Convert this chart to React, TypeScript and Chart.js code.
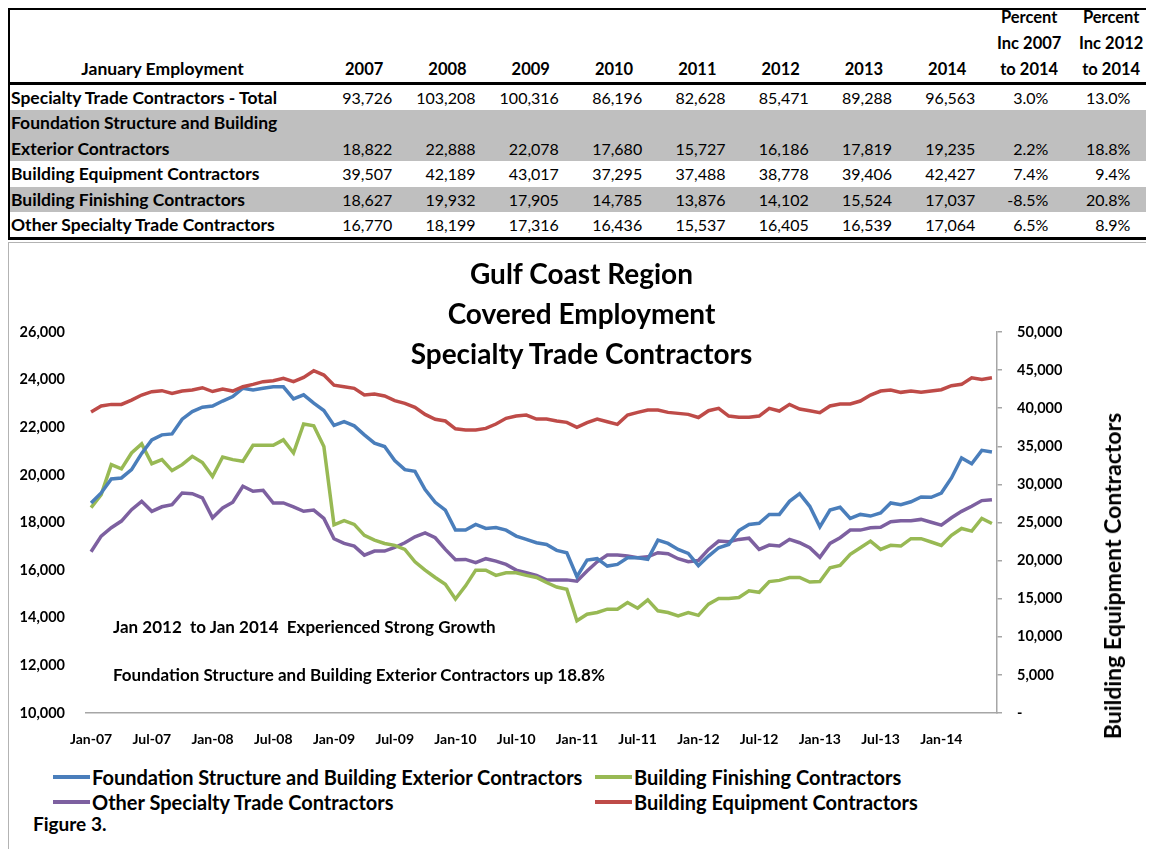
import React, { useEffect, useRef } from 'react';
import { Chart, registerables } from 'chart.js';

Chart.register(...registerables);

// ---------------- Table data ----------------
const TABLE_HEADER_LABEL = 'January Employment';
const TABLE_YEARS = ['2007', '2008', '2009', '2010', '2011', '2012', '2013', '2014'];
const PCT_HEADERS = [
  ['Percent', 'Inc 2007', 'to 2014'],
  ['Percent', 'Inc 2012', 'to 2014'],
];
const ROW_LABELS = [
  ['Specialty Trade Contractors - Total'],
  ['Foundation Structure and Building', 'Exterior Contractors'],
  ['Building Equipment Contractors'],
  ['Building Finishing Contractors'],
  ['Other Specialty Trade Contractors'],
];
const ROW_TOTAL = [93726, 103208, 100316, 86196, 82628, 85471, 89288, 96563];
const ROW_FOUNDATION = [18822, 22888, 22078, 17680, 15727, 16186, 17819, 19235];
const ROW_EQUIPMENT = [39507, 42189, 43017, 37295, 37488, 38778, 39406, 42427];
const ROW_FINISHING = [18627, 19932, 17905, 14785, 13876, 14102, 15524, 17037];
const ROW_OTHER = [16770, 18199, 17316, 16436, 15537, 16405, 16539, 17064];
const PCT_2007_2014 = ['3.0%', '2.2%', '7.4%', '-8.5%', '6.5%'];
const PCT_2012_2014 = ['13.0%', '18.8%', '9.4%', '20.8%', '8.9%'];
const TABLE_VALUES = [ROW_TOTAL, ROW_FOUNDATION, ROW_EQUIPMENT, ROW_FINISHING, ROW_OTHER];
const SHADED_ROWS = [1, 3];

// ---------------- Chart data ----------------
const TITLE_LINES = ['Gulf Coast Region', 'Covered Employment', 'Specialty Trade Contractors'];
const NOTE_LINES = [
  'Jan 2012  to Jan 2014  Experienced Strong Growth',
  'Foundation Structure and Building Exterior Contractors up 18.8%',
];
const RIGHT_AXIS_TITLE = 'Building Equipment Contractors';
const FIGURE_LABEL = 'Figure 3.';

const MONTH_ABBR = ['Jan', 'Feb', 'Mar', 'Apr', 'May', 'Jun', 'Jul', 'Aug', 'Sep', 'Oct', 'Nov', 'Dec'];
const START_YEAR = 2007;
const MONTH_COUNT = 90;
const MONTH_LABELS: string[] = [];
for (let i = 0; i < MONTH_COUNT; i++) {
  const y = START_YEAR + Math.floor(i / 12);
  MONTH_LABELS.push(`${MONTH_ABBR[i % 12]}-${String(y).slice(2)}`);
}

const FOUNDATION = [
  18822, 19240, 19830, 19870, 20220, 20900, 21470, 21680, 21720, 22340, 22660, 22840,
  22888, 23100, 23290, 23640, 23570, 23640, 23700, 23700, 23190, 23360, 23010, 22700,
  22078, 22240, 22060, 21680, 21330, 21190, 20600, 20220, 20150, 19380, 18850, 18520,
  17680, 17680, 17920, 17750, 17790, 17680, 17430, 17290, 17150, 17080, 16830, 16730,
  15727, 16420, 16480, 16170, 16240, 16520, 16520, 16450, 17260, 17120, 16870, 16700,
  16186, 16590, 16940, 17080, 17660, 17920, 17970, 18340, 18340, 18890, 19210, 18680,
  17819, 18520, 18640, 18170, 18340, 18270, 18400, 18820, 18750, 18870, 19070, 19060,
  19235, 19870, 20710, 20470, 21030, 20960,
];
const FINISHING = [
  18627, 19170, 20430, 20250, 20920, 21300, 20470, 20640, 20180, 20430, 20780, 20520,
  19932, 20750, 20640, 20570, 21240, 21240, 21240, 21470, 20920, 22140, 22060, 21190,
  17905, 18080, 17920, 17460, 17260, 17120, 17040, 16870, 16350, 16000, 15690, 15410,
  14785, 15340, 16000, 16000, 15780, 15890, 15890, 15780, 15690, 15480, 15290, 15200,
  13876, 14150, 14220, 14360, 14360, 14640, 14400, 14750, 14290, 14220, 14080, 14220,
  14102, 14570, 14810, 14810, 14850, 15130, 15070, 15520, 15570, 15690, 15690, 15500,
  15524, 16100, 16200, 16660, 16940, 17220, 16870, 17040, 17010, 17320, 17320, 17180,
  17037, 17460, 17750, 17640, 18170, 17960,
];
const OTHER = [
  16770, 17430, 17780, 18060, 18540, 18890, 18470, 18660, 18750, 19240, 19210, 19030,
  18199, 18610, 18850, 19520, 19310, 19350, 18820, 18820, 18660, 18470, 18520, 18170,
  17316, 17120, 17010, 16630, 16800, 16800, 16950, 17150, 17400, 17560, 17360, 16870,
  16436, 16450, 16310, 16480, 16380, 16240, 16000, 15890, 15780, 15590, 15590, 15590,
  15537, 15960, 16350, 16630, 16630, 16590, 16520, 16560, 16730, 16690, 16480, 16350,
  16405, 16870, 17220, 17190, 17290, 17340, 16870, 17050, 17010, 17290, 17150, 16940,
  16539, 17120, 17360, 17680, 17680, 17780, 17800, 18030, 18070, 18070, 18130, 18010,
  17890, 18200, 18470, 18680, 18920, 18960,
];
const EQUIPMENT = [
  39507, 40290, 40500, 40500, 41070, 41730, 42170, 42300, 41950, 42250, 42380, 42690,
  42189, 42520, 42250, 42820, 43130, 43480, 43610, 43920, 43480, 44050, 44920, 44350,
  43017, 42820, 42600, 41730, 41860, 41600, 41000, 40640, 40110, 39190, 38540, 38320,
  37295, 37140, 37140, 37350, 37920, 38670, 38970, 39100, 38580, 38580, 38320, 38140,
  37488, 38100, 38580, 38230, 37880, 39100, 39450, 39760, 39760, 39450, 39320, 39190,
  38778, 39670, 39980, 38970, 38800, 38800, 38970, 39980, 39630, 40500, 39890, 39670,
  39406, 40290, 40550, 40550, 40940, 41730, 42250, 42380, 42080, 42250, 42080, 42250,
  42427, 42950, 43130, 44000, 43780, 44000,
];

const SERIES_LABELS = [
  'Foundation Structure and Building Exterior Contractors',
  'Building Finishing Contractors',
  'Other Specialty Trade Contractors',
  'Building Equipment Contractors',
];
const SERIES_DATA = [FOUNDATION, FINISHING, OTHER, EQUIPMENT];
const SERIES_AXIS = ['y', 'y', 'y', 'y2'];
const SERIES_COLORS = ['#4A7EBB', '#98B954', '#7D60A0', '#BE4B48'];

const LEFT_MIN = 10000;
const LEFT_MAX = 26000;
const LEFT_STEP = 2000;
const RIGHT_MIN = 0;
const RIGHT_MAX = 50000;
const RIGHT_STEP = 5000;

const FONT = 'Lato, "Open Sans", sans-serif';

// ---------------- Table component ----------------
const YEAR_W = 83.3;
const LABEL_W = 305;
const PCT1_W = 87;
const PCT2_W = 82;

function DataTable() {
  const cellBase: React.CSSProperties = { boxSizing: 'border-box', flex: 'none' };
  return (
    <div
      style={{
        position: 'absolute',
        left: 0,
        top: 0,
        width: 1142,
        borderLeft: '2px solid #000',
        borderTop: '2px solid #000',
        borderBottom: '3px solid #000',
        boxSizing: 'border-box',
        fontFamily: FONT,
        color: '#000',
      }}
    >
      <div
        style={{
          display: 'flex',
          alignItems: 'flex-end',
          height: 72,
          borderBottom: '3px solid #000',
          fontWeight: 700,
          fontSize: 16.5,
          lineHeight: '26px',
        }}
      >
        <div style={{ ...cellBase, width: LABEL_W, textAlign: 'center', fontSize: 17.5 }}>{TABLE_HEADER_LABEL}</div>
        {TABLE_YEARS.map((y) => (
          <div key={y} style={{ ...cellBase, width: YEAR_W, textAlign: 'right', paddingRight: 15 }}>
            {y}
          </div>
        ))}
        {PCT_HEADERS.map((lines, i) => (
          <div
            key={i}
            style={{ ...cellBase, width: i === 0 ? PCT1_W : PCT2_W, textAlign: 'right', paddingRight: 7 }}
          >
            <div style={{ display: 'inline-block', textAlign: 'center' }}>
              {lines.map((l) => (
                <div key={l}>{l}</div>
              ))}
            </div>
          </div>
        ))}
      </div>
      {ROW_LABELS.map((labelLines, r) => (
        <div
          key={r}
          style={{
            display: 'flex',
            alignItems: 'flex-end',
            height: labelLines.length * 25.4,
            background: SHADED_ROWS.includes(r) ? '#bfbfbf' : '#fff',
            lineHeight: '25.4px',
          }}
        >
          <div style={{ ...cellBase, width: LABEL_W, paddingLeft: 1, fontWeight: 700, fontSize: 17.5, whiteSpace: 'nowrap' }}>
            {labelLines.map((l) => (
              <div key={l}>{l}</div>
            ))}
          </div>
          {TABLE_VALUES[r].map((v, c) => (
            <div key={c} style={{ ...cellBase, width: YEAR_W, textAlign: 'right', paddingRight: 6, fontSize: 16 }}>
              {v.toLocaleString('en-US')}
            </div>
          ))}
          <div style={{ ...cellBase, width: PCT1_W, textAlign: 'right', paddingRight: 20, fontSize: 16 }}>
            {PCT_2007_2014[r]}
          </div>
          <div style={{ ...cellBase, width: PCT2_W, textAlign: 'right', paddingRight: 20, fontSize: 16 }}>
            {PCT_2012_2014[r]}
          </div>
        </div>
      ))}
    </div>
  );
}

// ---------------- App ----------------
const CANVAS_W = 1145;
const CANVAS_H = 520;

export default function App() {
  const canvasRef = useRef<HTMLCanvasElement>(null);

  useEffect(() => {
    if (!canvasRef.current) return;
    const tickFont = { family: FONT, size: 14.5, weight: 'bold' as const };
    const chart = new Chart(canvasRef.current, {
      type: 'line',
      data: {
        labels: MONTH_LABELS,
        datasets: SERIES_LABELS.map((label, i) => ({
          label,
          data: SERIES_DATA[i],
          yAxisID: SERIES_AXIS[i],
          borderColor: SERIES_COLORS[i],
          backgroundColor: SERIES_COLORS[i],
          borderWidth: 3.5,
          pointRadius: 0,
          tension: 0,
          fill: false,
          order: i === 3 ? 0 : 1,
        })),
      },
      options: {
        animation: false,
        responsive: false,
        maintainAspectRatio: false,
        layout: { padding: { top: 89, left: 0, right: 0, bottom: 0 } },
        plugins: {
          legend: { display: false },
          title: { display: false },
          tooltip: { enabled: false },
        },
        scales: {
          x: {
            type: 'category',
            offset: true,
            grid: { display: false, drawTicks: false },
            border: { display: true, color: '#a6a6a6', width: 1.5 },
            ticks: {
              autoSkip: false,
              maxRotation: 0,
              minRotation: 0,
              padding: 18,
              color: '#000',
              font: { family: FONT, size: 14, weight: 'bold' },
              callback: function (this: any, value: any, index: number) {
                return index % 6 === 0 ? MONTH_LABELS[index] : '';
              },
            },
            afterFit: (s: any) => {
              s.height = 50;
            },
          },
          y: {
            position: 'left',
            min: LEFT_MIN,
            max: LEFT_MAX,
            grid: { display: false, drawTicks: false },
            border: { display: false },
            ticks: {
              stepSize: LEFT_STEP,
              padding: 21,
              color: '#000',
              font: tickFont,
              callback: (v: any) => Number(v).toLocaleString('en-US'),
            },
            afterFit: (s: any) => {
              s.width = 77;
            },
          },
          y2: {
            position: 'right',
            min: RIGHT_MIN,
            max: RIGHT_MAX,
            grid: { drawOnChartArea: false, drawTicks: true, tickLength: 5, color: '#a6a6a6', lineWidth: 1.5 },
            border: { display: true, color: '#a6a6a6', width: 1.5 },
            ticks: {
              stepSize: RIGHT_STEP,
              padding: 15,
              color: '#000',
              font: tickFont,
              callback: (v: any) => (Number(v) === 0 ? '-' : Number(v).toLocaleString('en-US')),
            },
            afterFit: (s: any) => {
              s.width = 157;
            },
          },
        },
      },
    });
    return () => chart.destroy();
  }, []);

  const legendPos = [
    { left: 44, top: 534 },
    { left: 586, top: 534 },
    { left: 44, top: 559 },
    { left: 586, top: 559 },
  ];

  return (
    <div style={{ position: 'relative', width: 1146, height: 841, overflow: 'hidden', fontFamily: FONT, color: '#000' }}>
      <DataTable />
      <div
        style={{
          position: 'absolute',
          left: 0,
          top: 234,
          width: 1152,
          height: 606,
          borderLeft: '1px solid #b3b3b3',
          borderTop: '1px solid #b3b3b3',
          background: '#fff',
        }}
      >
        <canvas
          ref={canvasRef}
          width={CANVAS_W}
          height={CANVAS_H}
          style={{ position: 'absolute', left: 0, top: 0, width: CANVAS_W, height: CANVAS_H }}
        />
        <div
          style={{
            position: 'absolute',
            left: 0,
            top: 10,
            width: CANVAS_W,
            textAlign: 'center',
            fontWeight: 700,
            fontSize: 28,
            lineHeight: '40px',
          }}
        >
          {TITLE_LINES.map((l) => (
            <div key={l}>{l}</div>
          ))}
        </div>
        {NOTE_LINES.map((l, i) => (
          <div
            key={l}
            style={{
              position: 'absolute',
              left: 104,
              top: 373 + i * 48,
              fontWeight: 700,
              fontSize: 17,
              lineHeight: '22px',
              whiteSpace: 'pre',
            }}
          >
            {l}
          </div>
        ))}
        <div
          style={{
            position: 'absolute',
            left: 1103,
            top: 333,
            transform: 'translate(-50%, -50%) rotate(-90deg)',
            fontWeight: 700,
            fontSize: 23,
            whiteSpace: 'nowrap',
            lineHeight: '26px',
          }}
        >
          {RIGHT_AXIS_TITLE}
        </div>
        {SERIES_LABELS.map((label, i) => (
          <div
            key={label}
            style={{
              position: 'absolute',
              left: legendPos[i].left,
              top: legendPos[i].top - 12,
              height: 24,
              display: 'flex',
              alignItems: 'center',
              whiteSpace: 'nowrap',
            }}
          >
            <div style={{ width: 37, height: 4, background: SERIES_COLORS[i], marginRight: 2 }} />
            <div style={{ fontWeight: 700, fontSize: 20, lineHeight: '24px' }}>{label}</div>
          </div>
        ))}
        <div
          style={{
            position: 'absolute',
            left: 24,
            top: 581 - 12,
            fontWeight: 700,
            fontSize: 19,
            lineHeight: '24px',
          }}
        >
          {FIGURE_LABEL}
        </div>
      </div>
    </div>
  );
}
